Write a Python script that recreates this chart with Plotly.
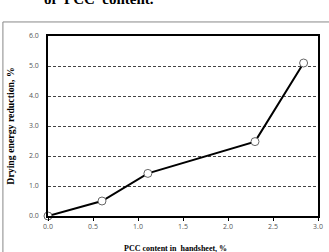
import plotly.graph_objects as go

pcc = [0.0, 0.6, 1.11, 2.3, 2.84]
reduction = [0.0, 0.5, 1.42, 2.48, 5.1]
x_ticks = [0.0, 0.5, 1.0, 1.5, 2.0, 2.5, 3.0]
y_ticks = [0.0, 1.0, 2.0, 3.0, 4.0, 5.0, 6.0]

fig = go.Figure()
fig.add_trace(go.Scatter(
    x=pcc, y=reduction, mode="lines+markers",
    line=dict(color="black", width=2),
    marker=dict(symbol="circle", size=8, color="white",
                line=dict(color="#666666", width=1)),
    cliponaxis=False, showlegend=False,
))

tickfont = dict(family="Open Sans, sans-serif", size=7, color="#555555")
serif = "Liberation Serif, Times New Roman, serif"

fig.update_layout(
    width=329, height=252,
    margin=dict(l=48, r=11, t=36, b=36),
    paper_bgcolor="white", plot_bgcolor="white",
    xaxis=dict(
        range=[0, 3], tickvals=x_ticks, ticktext=[f"{v:.1f}" for v in x_ticks],
        showgrid=False, zeroline=False, automargin=False,
        showline=True, linecolor="black", linewidth=1.5, mirror=True,
        ticks="outside", ticklen=3, tickcolor="black", tickwidth=1,
        tickfont=tickfont,
    ),
    yaxis=dict(
        range=[0, 6], tickvals=y_ticks, ticktext=[f"{v:.1f}" for v in y_ticks],
        showgrid=True, gridcolor="#444444", gridwidth=0.6, griddash="3px,2px",
        zeroline=False, automargin=False,
        showline=True, linecolor="black", linewidth=1.5, mirror=True,
        ticks="", tickfont=tickfont, ticklabelstandoff=6,
        title=dict(text="<b>Drying energy reduction, %</b>",
                   font=dict(family=serif, size=9.8, color="black"), standoff=13),
    ),
)

# x-axis title placed as annotation below tick labels
fig.add_annotation(
    text="<b>PCC content in  handsheet, %</b>", xref="paper", yref="paper",
    x=0.474, y=-0.178, xanchor="center", yanchor="middle", showarrow=False,
    font=dict(family=serif, size=8, color="black"),
)

# outer figure frame
fig.add_shape(type="rect", xref="paper", yref="paper",
              x0=-0.167, x1=1.15, y0=-0.25, y1=1.078,
              line=dict(color="#888888", width=1), fillcolor="rgba(0,0,0,0)", layer="below")

fig.add_annotation(
    text="<b>of  PCC  content.</b>", xref="paper", yref="paper",
    x=0.19, y=1.15, xanchor="center", yanchor="bottom", showarrow=False,
    font=dict(family=serif, size=15, color="black"),
)

fig.write_html("out.html")
